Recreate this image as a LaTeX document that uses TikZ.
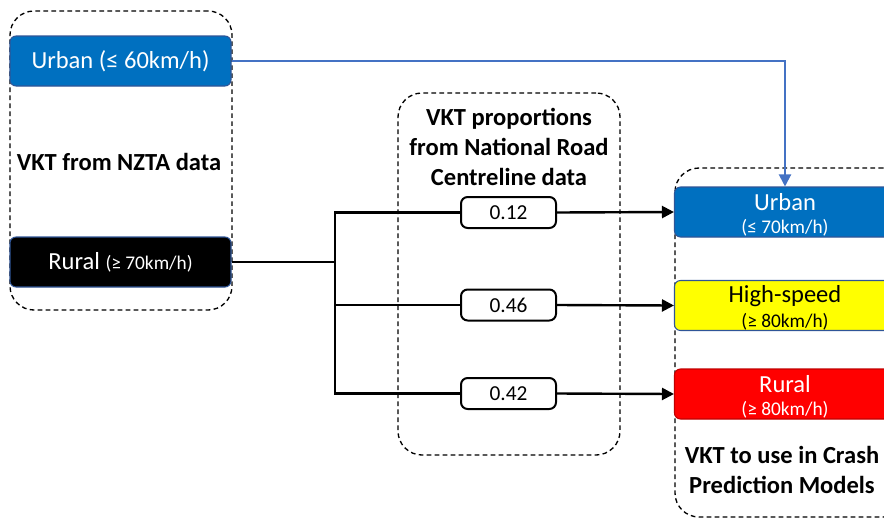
\documentclass[tikz,border=0pt]{standalone}
\usepackage{fontspec}
\setmainfont{Carlito}
\usetikzlibrary{arrows.meta}

\definecolor{uBlue}{HTML}{0070C0}
\definecolor{edgeBlue}{HTML}{2F5597}
\definecolor{linkBlue}{HTML}{4472C4}
\definecolor{hsYellow}{HTML}{FFFF00}
\definecolor{rRed}{HTML}{FF0000}
\definecolor{rEdge}{HTML}{C00000}

\newcommand\fsL{\fontsize{18.4pt}{22.5pt}\selectfont}
\newcommand\fsM{\fontsize{16pt}{19pt}\selectfont}
\newcommand\fsS{\fontsize{14.5pt}{17pt}\selectfont}

\begin{document}
\begin{tikzpicture}[x=0.75pt,y=-0.75pt,
  group/.style={draw, line width=1pt, dash pattern=on 3.5pt off 2.5pt,
    rounded corners=18pt, inner sep=0pt},
  catbox/.style={draw=edgeBlue, line width=0.8pt, rounded corners=4.5pt,
    minimum width=165.75pt, minimum height=37.5pt, inner sep=0pt},
  valbox/.style={draw, line width=1.5pt, rounded corners=5pt,
    minimum width=71.25pt, minimum height=23.25pt, inner sep=0pt, font=\fsM},
  heading/.style={font=\fsL\bfseries, align=center, inner sep=0pt},
  big/.style={font=\fsL, anchor=base, inner sep=0pt},
  small/.style={font=\fsS, anchor=base, inner sep=0pt},
  link/.style={line width=1.8pt},
  tip/.style={-{Triangle[length=9pt,width=9pt]}}]

\useasboundingbox (0,0) rectangle (884,518);
\clip (0,0) rectangle (884,518);

% dashed group frames
\node[group, minimum width=166.5pt, minimum height=224.25pt] (gL) at (121,160.5) {};
\node[group, minimum width=166.5pt, minimum height=271.5pt] (gM) at (509,274) {};
\node[group, minimum width=174pt, minimum height=261.75pt] (gR) at (791,342.5) {};

% source VKT (left)
\node[catbox, fill=uBlue, text=white, font=\fsL] (uL) at (120.5,61) {Urban (≤ 60km/h)};
\node[catbox, fill=black, text=white, font=\fsL] (rL) at (120.5,262) {Rural {\fsS (≥ 70km/h)}};
\node[heading] (tL) at (119,162) {VKT from NZTA data};

% proportions (middle)
\node[heading] (tM) at (509,147) {VKT proportions\\from National Road\\Centreline data};
\node[valbox] (v1) at (508.5,212.5) {0.12};
\node[valbox] (v2) at (508.5,305) {0.46};
\node[valbox] (v3) at (508.5,393.5) {0.42};

% target categories (right)
\node[catbox, fill=uBlue] (uR) at (785,212) {};
\node[big, text=white] (uRa) at (785,210) {Urban};
\node[small, text=white] (uRb) at (785,233) {(≤ 70km/h)};

\node[catbox, fill=hsYellow] (hR) at (785,305.5) {};
\node[big] (hRa) at (785,302) {High-speed};
\node[small] (hRb) at (785,327) {(≥ 80km/h)};

\node[catbox, fill=rRed, draw=rEdge] (rR) at (785,394) {};
\node[big, text=white] (rRa) at (785,392) {Rural};
\node[small, text=white] (rRb) at (785,415) {(≥ 80km/h)};

\node[heading] (tR) at (782,470) {VKT to use in Crash\\Prediction Models};

% connectors
\coordinate (j) at (335,262);
\draw[link] (rL.east) -- (j);
\draw[link] (v1.west) -| (j) |- (v3.west);
\draw[link] (j) |- (v2.west);
\draw[link, tip] (v1.east) -- (uR.west);
\draw[link, tip] (v2.east) -- (hR.west);
\draw[link, tip] (v3.east) -- (rR.west);
\draw[linkBlue, line width=1.5pt, tip] (uL.east) -| (uR.north);
\end{tikzpicture}
\end{document}
